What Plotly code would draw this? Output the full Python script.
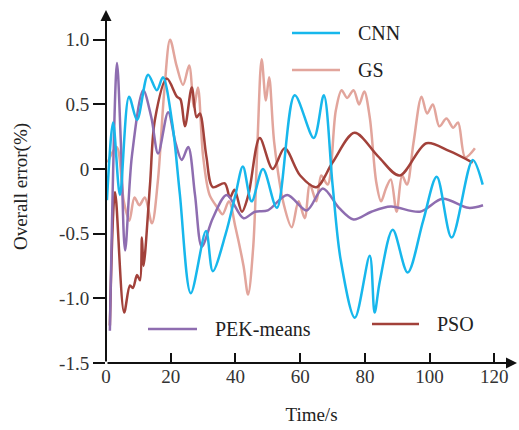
import plotly.graph_objects as go

# ---------------- data ----------------
cnn_t = [0.3, 2.2, 4.3, 7.1, 9.6, 13, 15.7, 17.6, 20.5, 22.8, 26.2, 30.9, 33, 37, 40, 42.3, 45, 48.5,
         52.8, 58.3, 64.2, 67.3, 70, 72.5, 76.9, 81.5, 83, 84.6, 88.6, 93.2, 98, 102.2, 106.8, 113.3, 116.4]
cnn_y = [-0.24, 0.36, -0.2, 0.56, 0.38, 0.73, 0.61, 0.71, 0.35, -0.19, -0.96, -0.48, -0.79, -0.5, -0.2, 0.02,
         -0.25, 0.0, -0.3, 0.57, 0.24, 0.57, -0.12, -0.7, -1.15, -0.67, -1.11, -0.87, -0.47, -0.8, -0.4,
         -0.06, -0.53, 0.07, -0.12]

gs_t = [0.5, 3.3, 5.5, 7.2, 8.8, 10.3, 12, 14.2, 16, 18, 19.8, 21.8, 23.8, 25.7, 27.2, 28.4, 30, 32, 34.5,
        36, 38, 40, 42.5, 43.9, 45.5, 46.8, 48.1, 49.4, 50.4, 52, 55, 57.4, 59.5, 61.4, 63, 65, 66.5, 68.5,
        71, 72.8, 74.5, 76.5, 78.2, 79.8, 81.5, 83.5, 85, 86.5, 88, 89.8, 91.5, 93, 95, 97.5, 99.2, 101,
        103, 105.2, 107.3, 108.8, 111, 114]
gs_y = [0.05, 0.17, -0.25, -0.4, -0.22, -0.28, -0.22, -0.42, -0.1, 0.6, 1.0, 0.8, 0.65, 0.8, 0.48, 0.63,
        0.1, -0.2, -0.3, -0.35, -0.25, -0.45, -0.75, -0.97, -0.6, 0.2, 0.85, 0.53, 0.71, 0.2, -0.28, -0.45,
        -0.25, -0.38, -0.12, -0.25, -0.05, -0.12, 0.45, 0.61, 0.55, 0.61, 0.5, 0.6, 0.4, -0.1, -0.25, -0.15,
        -0.08, -0.33, -0.05, -0.12, 0.2, 0.56, 0.43, 0.5, 0.33, 0.39, 0.32, 0.36, 0.09, 0.16]

pso_t = [1.2, 2.8, 5.6, 7.4, 8.3, 9.6, 10.5, 11.1, 11.6, 13.6, 15.1, 18.8, 21.9, 23, 24.4, 26.5, 28, 29,
         31, 33, 36.7, 38.3, 39.7, 42, 44, 47.5, 51.5, 55.2, 60, 65, 70, 76.8, 84, 90.7, 99, 106, 113.3]
pso_y = [-1.21, -0.18, -1.11, -0.9, -0.92, -0.82, -0.86, -0.53, -0.75, -0.12, 0.38, 0.70, 0.56, 0.54,
         0.33, 0.63, 0.4, 0.43, 0.1, -0.14, -0.11, -0.22, -0.16, -0.33, -0.2, 0.24, 0.0, 0.16, -0.05,
         -0.14, 0.05, 0.28, 0.1, -0.05, 0.2, 0.14, 0.05]

pek_t = [1.2, 3.4, 4.6, 5.9, 8, 11.5, 14, 16.1, 19.2, 21.5, 23.4, 25.4, 27.5, 29.6, 33, 37.3, 42.5, 46, 50,
         56, 62, 67, 72, 76.5, 82, 88, 97, 104, 112, 116.5]
pek_y = [-1.25, 0.82, 0.2, -0.63, 0.1, 0.61, 0.4, 0.12, 0.44, 0.2, 0.07, 0.17, -0.2, -0.6, -0.38, -0.2,
         -0.38, -0.33, -0.32, -0.2, -0.32, -0.15, -0.3, -0.39, -0.33, -0.29, -0.33, -0.23, -0.3, -0.28]

series_names = ["CNN", "GS", "PEK-means", "PSO"]
x_ticks = [0, 20, 40, 60, 80, 100, 120]
y_ticks = [-1.5, -1.0, -0.5, 0, 0.5, 1.0]
y_tick_labels = ["-1.5", "-1.0", "-0.5", "0", "0.5", "1.0"]

colors = {"CNN": "#17B7EC", "GS": "#E2A59C", "PEK-means": "#8E6DB0", "PSO": "#A2413A"}
FONT = "Liberation Serif"

fig = go.Figure()
for name, t, y in [("GS", gs_t, gs_y), ("PSO", pso_t, pso_y), ("PEK-means", pek_t, pek_y), ("CNN", cnn_t, cnn_y)]:
    fig.add_trace(go.Scatter(x=t, y=y, mode="lines", name=name,
                             line=dict(color=colors[name], width=2.5, shape="spline", smoothing=0.9),
                             showlegend=False))

W, H = 519, 430
L, R, T, B = 106, 2, 10, 67
XR = [0, 127]
YR = [-1.5, 1.23]

fig.update_layout(
    width=W, height=H, margin=dict(l=L, r=R, t=T, b=B, autoexpand=False),
    paper_bgcolor="white", plot_bgcolor="white",
    font=dict(family=FONT, color="#222", size=18),
    xaxis=dict(range=XR, tickvals=x_ticks, ticks="inside", ticklen=10, tickwidth=2, tickcolor="#111",
               showgrid=False, zeroline=False, showline=False, automargin=False,
               title=dict(text="Time/s", standoff=21, font=dict(size=19)),
               tickfont=dict(size=19, color="#333")),
    yaxis=dict(range=YR, tickvals=y_ticks, ticktext=y_tick_labels, ticks="outside", ticklen=12,
               tickwidth=2, tickcolor="#111", showgrid=False, zeroline=False, showline=False,
               automargin=False,
               title=dict(text="Overall error(%)", standoff=26, font=dict(size=19)),
               tickfont=dict(size=19, color="#333")),
)

# axis lines with arrow heads
fig.add_annotation(x=XR[1], y=YR[0], ax=0, ay=YR[0], xref="x", yref="y", axref="x", ayref="y",
                   showarrow=True, arrowhead=2, arrowsize=1.1, arrowwidth=2, arrowcolor="#111", text="")
fig.add_annotation(x=0, y=YR[1], ax=0, ay=YR[0], xref="x", yref="y", axref="x", ayref="y",
                   showarrow=True, arrowhead=2, arrowsize=1.1, arrowwidth=2, arrowcolor="#111", text="")

# legend items placed as in the reference (pixel positions -> paper)
def px2paper(px, py):
    return (px - L) / (W - L - R), (H - B - py) / (H - T - B)

legend_items = [("CNN", 292, 340, 33), ("GS", 292, 340, 70), ("PEK-means", 148, 197, 329), ("PSO", 372, 419, 324)]
for name, x0, x1, yy in legend_items:
    a0, b0 = px2paper(x0, yy)
    a1, _ = px2paper(x1, yy)
    fig.add_shape(type="line", xref="paper", yref="paper", x0=a0, x1=a1, y0=b0, y1=b0,
                  line=dict(color=colors[name], width=2.5))
    tx, _ = px2paper(x1 + 16, yy)
    fig.add_annotation(x=tx, y=b0, xref="paper", yref="paper", text=name, showarrow=False,
                       xanchor="left", yanchor="middle", font=dict(size=20, color="#222"))

fig.write_html("out.html", config={"displayModeBar": False},
               post_script="document.body.style.margin='0';document.body.style.overflow='hidden';")
